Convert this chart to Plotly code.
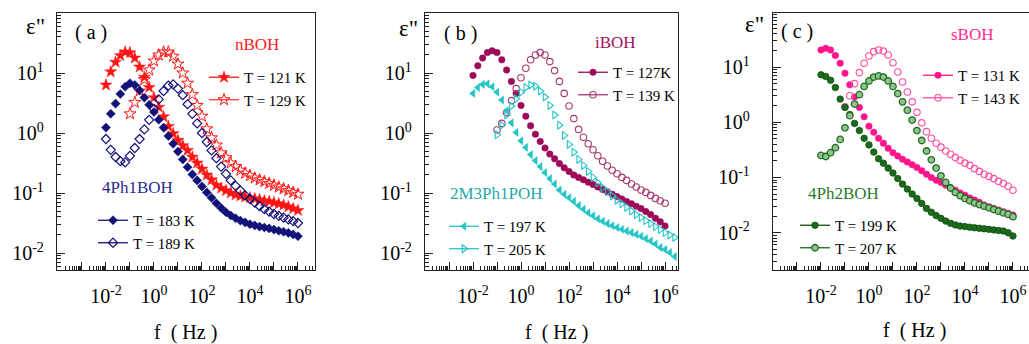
import numpy as np
import plotly.graph_objects as go

W, H = 1029, 344

# ---------------- data (log10 f [Hz]  and  log10 eps'') ----------------
LOGF_A = [-2.0, -1.8, -1.6, -1.4, -1.2, -1.0, -0.8, -0.6, -0.4, -0.2, 0.0, 0.2, 0.4, 0.6, 0.8,
          1.0, 1.2, 1.4, 1.6, 1.8, 2.0, 2.2, 2.4, 2.6, 2.8, 3.0, 3.2, 3.4, 3.6, 3.8, 4.0, 4.2,
          4.4, 4.6, 4.8, 5.0, 5.2, 5.4, 5.6, 5.8, 6.0]
LOGF_B = [-1.0, -0.8, -0.6, -0.4, -0.2, 0.0, 0.2, 0.4, 0.6, 0.8, 1.0, 1.2, 1.4, 1.6, 1.8, 2.0,
          2.2, 2.4, 2.6, 2.8, 3.0, 3.2, 3.4, 3.6, 3.8, 4.0, 4.2, 4.4, 4.6, 4.8, 5.0, 5.2, 5.4,
          5.6, 5.8, 6.0]
LOGF_C = [-2.0, -1.8, -1.6, -1.4, -1.2, -1.0, -0.8, -0.6, -0.4, -0.2, 0.0, 0.2, 0.4, 0.6, 0.8,
          1.0, 1.2, 1.4, 1.6, 1.8, 2.0, 2.2, 2.4, 2.6, 2.8, 3.0, 3.2, 3.4, 3.6, 3.8, 4.0, 4.2,
          4.4, 4.6, 4.8, 5.0, 5.2, 5.4, 5.6, 5.8, 6.0, 6.2, 6.4]
LOGF_D = [-1.0, -0.8, -0.6, -0.4, -0.2, 0.0, 0.2, 0.4, 0.6, 0.8, 1.0, 1.2, 1.4, 1.6, 1.8, 2.0,
          2.2, 2.4, 2.6, 2.8, 3.0, 3.2, 3.4, 3.6, 3.8, 4.0, 4.2, 4.4, 4.6, 4.8, 5.0, 5.2, 5.4,
          5.6, 5.8, 6.0, 6.2, 6.4]

# panel (a)
nBOH_121K = [0.80, 1.02, 1.18, 1.29, 1.35, 1.34, 1.25, 1.10, 0.93, 0.76, 0.59, 0.43, 0.27, 0.11,
             -0.01, -0.12, -0.21, -0.29, -0.40, -0.50, -0.60, -0.70, -0.78, -0.87, -0.92, -0.96,
             -1.00, -1.03, -1.05, -1.065, -1.08, -1.095, -1.11, -1.13, -1.14, -1.16, -1.18,
             -1.20, -1.23, -1.26, -1.29]
nBOH_129K = [0.32, 0.51, 0.70, 0.89, 1.05, 1.20, 1.30, 1.35, 1.35, 1.28, 1.15, 1.00, 0.83, 0.64,
             0.46, 0.28, 0.07, -0.08, -0.20, -0.33, -0.41, -0.50, -0.56, -0.62, -0.67, -0.71,
             -0.75, -0.78, -0.81, -0.84, -0.87, -0.90, -0.93, -0.96, -0.99, -1.02]
Ph1BOH_183K = [0.09, 0.32, 0.49, 0.65, 0.77, 0.83, 0.80, 0.71, 0.59, 0.47, 0.35, 0.22, 0.09,
               -0.05, -0.18, -0.31, -0.44, -0.57, -0.69, -0.79, -0.89, -0.99, -1.08, -1.17,
               -1.25, -1.32, -1.375, -1.42, -1.46, -1.49, -1.52, -1.54, -1.56, -1.575, -1.59,
               -1.61, -1.63, -1.645, -1.665, -1.69, -1.72]
Ph1BOH_189K = [-0.10, -0.28, -0.40, -0.47, -0.49, -0.38, -0.25, -0.10, 0.06, 0.22, 0.40, 0.56,
               0.70, 0.79, 0.81, 0.74, 0.63, 0.48, 0.32, 0.16, 0.0, -0.15, -0.29, -0.42, -0.56,
               -0.68, -0.79, -0.88, -0.96, -1.04, -1.10, -1.16, -1.22, -1.27, -1.31, -1.35,
               -1.38, -1.41, -1.44, -1.47, -1.50]
# panel (b)
iBOH_127K = [0.96, 1.12, 1.25, 1.34, 1.37, 1.34, 1.22, 1.05, 0.86, 0.66, 0.46, 0.28, 0.12, -0.02,
             -0.14, -0.25, -0.35, -0.43, -0.51, -0.58, -0.64, -0.70, -0.74, -0.78, -0.82, -0.86,
             -0.90, -0.94, -0.98, -1.02, -1.06, -1.10, -1.14, -1.18, -1.22, -1.26, -1.31, -1.36,
             -1.42, -1.48, -1.55]
iBOH_139K = [0.05, 0.16, 0.34, 0.54, 0.74, 0.92, 1.08, 1.22, 1.30, 1.34, 1.30, 1.19, 1.04, 0.86,
             0.66, 0.45, 0.24, 0.06, -0.07, -0.18, -0.28, -0.38, -0.47, -0.55, -0.62, -0.68,
             -0.74, -0.79, -0.85, -0.90, -0.95, -0.99, -1.04, -1.09, -1.13, -1.17]
M3Ph1POH_197K = [0.66, 0.76, 0.81, 0.82, 0.77, 0.68, 0.55, 0.37, 0.17, 0.01, -0.13, -0.24, -0.36,
                 -0.46, -0.56, -0.66, -0.76, -0.85, -0.95, -1.02, -1.08, -1.14, -1.21, -1.27,
                 -1.33, -1.38, -1.43, -1.47, -1.51, -1.545, -1.575, -1.605, -1.635, -1.66,
                 -1.69, -1.72, -1.76, -1.80, -1.85, -1.91, -1.94, -1.99, -2.06]
M3Ph1POH_205K = [-0.03, 0.13, 0.30, 0.45, 0.57, 0.68, 0.76, 0.80, 0.78, 0.70, 0.60, 0.46, 0.30,
                 0.13, -0.04, -0.19, -0.32, -0.44, -0.54, -0.64, -0.74, -0.83, -0.91, -0.98,
                 -1.05, -1.12, -1.18, -1.24, -1.30, -1.36, -1.41, -1.46, -1.51, -1.56, -1.61,
                 -1.66, -1.70, -1.74]
# panel (c)
sBOH_131K = [1.31, 1.34, 1.31, 1.21, 1.07, 0.89, 0.68, 0.46, 0.27, 0.10, -0.07, -0.18, -0.29,
             -0.38, -0.47, -0.55, -0.61, -0.67, -0.72, -0.77, -0.82, -0.88, -0.94, -1.00, -1.05,
             -1.09, -1.14, -1.19, -1.23, -1.28, -1.32, -1.37, -1.41, -1.45, -1.50, -1.53, -1.56,
             -1.59, -1.62, -1.65, -1.68]
sBOH_143K = [0.28, 0.48, 0.70, 0.90, 1.07, 1.20, 1.28, 1.31, 1.29, 1.22, 1.08, 0.91, 0.73, 0.55,
             0.37, 0.18, -0.01, -0.17, -0.29, -0.38, -0.45, -0.52, -0.58, -0.64, -0.69, -0.74,
             -0.78, -0.84, -0.89, -0.94, -0.98, -1.02, -1.07, -1.11, -1.16, -1.23]
Ph2BOH_199K = [0.86, 0.83, 0.76, 0.63, 0.42, 0.27, 0.14, -0.02, -0.15, -0.29, -0.41, -0.54, -0.66,
               -0.74, -0.83, -0.92, -1.02, -1.12, -1.21, -1.30, -1.38, -1.47, -1.56, -1.63,
               -1.69, -1.74, -1.79, -1.83, -1.86, -1.88, -1.89, -1.90, -1.91, -1.92, -1.93,
               -1.94, -1.95, -1.96, -1.97, -2.00, -2.06]
Ph2BOH_207K = [-0.60, -0.62, -0.55, -0.46, -0.31, -0.10, 0.12, 0.33, 0.50, 0.65, 0.75, 0.82,
               0.84, 0.82, 0.75, 0.65, 0.52, 0.37, 0.22, 0.04, -0.15, -0.33, -0.52, -0.68,
               -0.83, -0.97, -1.09, -1.19, -1.27, -1.33, -1.38, -1.42, -1.46, -1.49, -1.52,
               -1.55, -1.58, -1.61, -1.64, -1.67, -1.71]

X_DECADES = [-4, -3, -2, -1, 0, 1, 2, 3, 4, 5, 6]
X_LABELS = ['', '', '10<sup>-2</sup>', '', '10<sup>0</sup>', '', '10<sup>2</sup>', '',
            '10<sup>4</sup>', '', '10<sup>6</sup>']
Y_DECADES = [-2, -1, 0, 1, 2]
Y_LABELS = ['10<sup>-2</sup>', '10<sup>-1</sup>', '10<sup>0</sup>', '10<sup>1</sup>', '']

FONT = 'Liberation Serif'

# ---------------- figure ----------------
fig = go.Figure()


def series(logf, loge, ax, symbol, fill, edge, size, lw, legend, name):
    n = len(loge)
    xs = 10 ** np.array(logf[:n])
    ys = 10 ** np.array(loge)
    mk = dict(symbol=symbol, size=size, color=fill, line=dict(color=edge, width=lw))
    fig.add_trace(go.Scatter(x=xs, y=ys, mode='markers', marker=mk, xaxis='x' + ax,
                             yaxis='y' + ax, showlegend=False, hoverinfo='skip'))
    # legend entry (line through marker)
    fig.add_trace(go.Scatter(x=[None], y=[None], mode='lines+markers', marker=mk,
                             line=dict(color=edge, width=1.3), name=name, legend=legend,
                             xaxis='x' + ax, yaxis='y' + ax))


RED, NAVY = '#ff1414', '#12127a'
MAROON, MAROON_L = '#9c0a58', '#a8386f'
CYAN = '#22c4c4'
PINK, PINK_L = '#ff148a', '#ff4da0'
DGREEN, LGREEN = '#1c6a1c', '#8fc48f'

series(LOGF_A, nBOH_121K, '', 'star', RED, RED, 9, 0.5, 'legend', 'T = 121 K')
series(LOGF_B, nBOH_129K, '', 'star-open', RED, '#ff3a3a', 9, 1.0, 'legend', 'T = 129 K')
series(LOGF_A, Ph1BOH_183K, '', 'diamond', NAVY, NAVY, 7, 0.5, 'legend2', 'T = 183 K')
series(LOGF_A, Ph1BOH_189K, '', 'diamond-open', NAVY, NAVY, 7, 1.2, 'legend2', 'T = 189 K')

series(LOGF_A, iBOH_127K, '2', 'circle', MAROON, MAROON, 6.5, 0.5, 'legend3', 'T = 127K')
series(LOGF_B, iBOH_139K, '2', 'circle-open', MAROON_L, MAROON_L, 6.5, 1.1, 'legend3', 'T = 139 K')
series(LOGF_C, M3Ph1POH_197K, '2', 'triangle-left', CYAN, CYAN, 7, 0.5, 'legend4', 'T = 197 K')
series(LOGF_D, M3Ph1POH_205K, '2', 'triangle-right-open', CYAN, CYAN, 7, 1.1, 'legend4', 'T = 205 K')

series(LOGF_A, sBOH_131K, '3', 'circle', PINK, PINK, 6.5, 0.5, 'legend5', 'T = 131 K')
series(LOGF_B, sBOH_143K, '3', 'circle-open', PINK_L, PINK_L, 6.5, 1.1, 'legend5', 'T = 143 K')
series(LOGF_A, Ph2BOH_199K, '3', 'circle', DGREEN, '#0f4f0f', 6.5, 0.8, 'legend6', 'T = 199 K')
series(LOGF_A, Ph2BOH_207K, '3', 'circle', LGREEN, DGREEN, 6.5, 1.3, 'legend6', 'T = 207 K')


def xaxis(x0, x1, r0, r1, anchor):
    return dict(domain=[x0 / W, x1 / W], type='log', range=[r0, r1], anchor=anchor,
                showline=True, linecolor='#222', linewidth=1.3, mirror=True,
                tickmode='array', tickvals=[10.0 ** k for k in X_DECADES], ticktext=X_LABELS,
                ticks='inside', ticklen=8, tickwidth=1, tickcolor='#222',
                minor=dict(ticks='inside', ticklen=4, tickwidth=1, tickcolor='#222', dtick='D1',
                           showgrid=False),
                showgrid=False, zeroline=False, ticklabelstandoff=8,
                tickfont=dict(family=FONT, size=20, color='black'))


def yaxis(y0, y1, r0, r1, anchor, mirror=True, standoff=8):
    return dict(domain=[1 - y1 / H, 1 - y0 / H], type='log', range=[r0, r1], anchor=anchor,
                showline=True, linecolor='#222', linewidth=1.3, mirror=mirror,
                tickmode='array', tickvals=[10.0 ** k for k in Y_DECADES], ticktext=Y_LABELS,
                ticks='inside', ticklen=8, tickwidth=1, tickcolor='#222',
                minor=dict(ticks='inside', ticklen=4, tickwidth=1, tickcolor='#222', dtick='D1',
                           showgrid=False),
                showgrid=False, zeroline=False, ticklabelstandoff=standoff,
                tickfont=dict(family=FONT, size=20, color='black'))


def legend(x, y):
    return dict(x=x / W, y=1 - y / H, xanchor='left', yanchor='top', bgcolor='rgba(0,0,0,0)',
                borderwidth=0, itemwidth=30, tracegroupgap=0, itemclick=False,
                font=dict(family=FONT, size=15, color='black'))


def ann(x, y, text, size, color='black'):
    return dict(x=x / W, y=1 - y / H, xref='paper', yref='paper', text=text, showarrow=False,
                xanchor='center', yanchor='middle', font=dict(family=FONT, size=size, color=color))


fig.update_layout(
    width=W, height=H, margin=dict(l=0, r=0, t=0, b=0),
    paper_bgcolor='white', plot_bgcolor='white',
    xaxis=xaxis(57, 315, -4.04, 6.71, 'y'),
    yaxis=yaxis(13, 270, -2.283, 2.0, 'x'),
    xaxis2=xaxis(425, 678, -4.0, 6.54, 'y2'),
    yaxis2=yaxis(13, 270, -2.283, 2.0, 'x2', standoff=8),
    xaxis3=xaxis(773, 1029, -4.0, 6.67, 'y3'),
    yaxis3=yaxis(13, 270, -2.676, 1.98, 'x3', mirror=False, standoff=18),
    legend=legend(204, 61),
    legend2=legend(93, 204),
    legend3=legend(573, 56),
    legend4=legend(444, 210),
    legend5=legend(918, 59),
    legend6=legend(795, 209),
    annotations=[
        ann(35, 26, 'ε"', 23), ann(408, 28, 'ε"', 23), ann(754, 24, 'ε"', 23),
        ann(91, 33, '( a )', 20), ann(460, 34, '( b )', 20), ann(797, 32, '( c )', 20),
        ann(185, 332, 'f  ( Hz )', 20), ann(556, 332, 'f  ( Hz )', 20), ann(914, 330, 'f  ( Hz )', 20),
        ann(257, 44, 'nBOH', 17, '#ff1a1a'), ann(137, 187, '4Ph1BOH', 17, '#2a2a8c'),
        ann(615, 42, 'iBOH', 17, '#a0125e'), ann(496, 193, '2M3Ph1POH', 17, '#22aaaa'),
        ann(972, 35, 'sBOH', 17, '#ff2a8e'), ann(843, 193, '4Ph2BOH', 17, '#2a7a2a'),
    ],
)

fig.write_html('out.html')
